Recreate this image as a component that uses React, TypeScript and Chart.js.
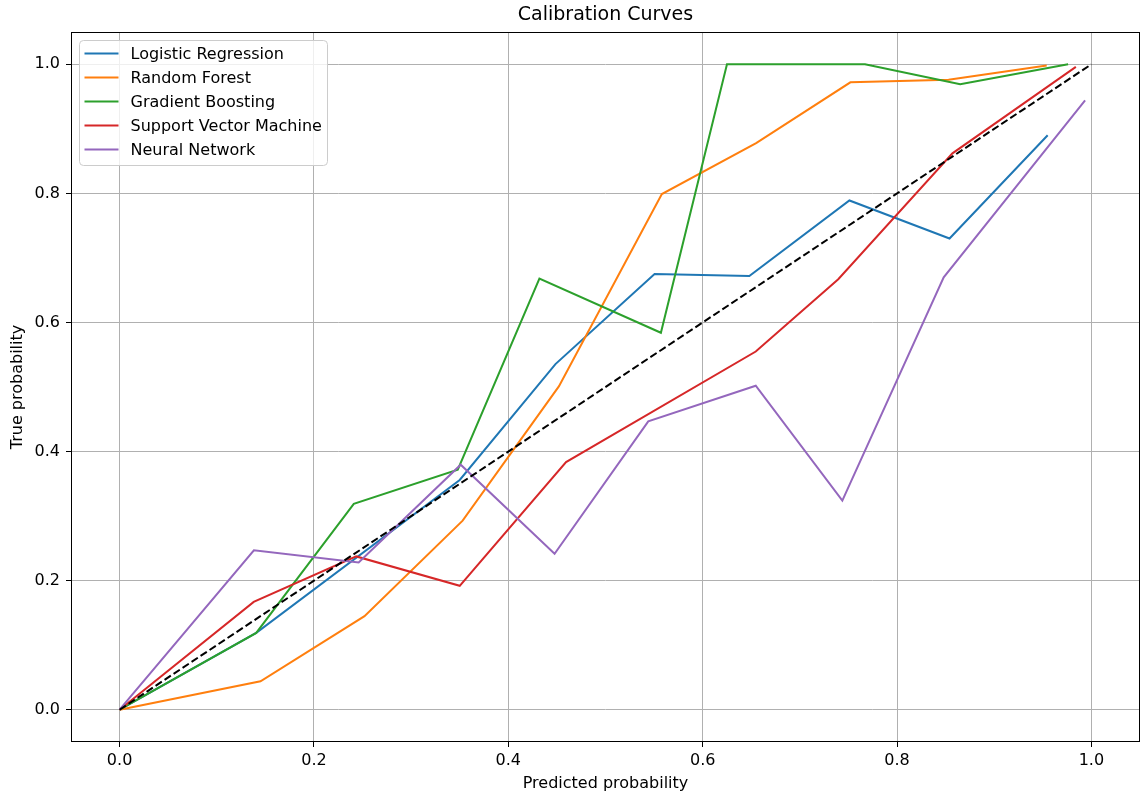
import React, { useEffect, useRef } from "react";
import { Chart, registerables } from "chart.js";

Chart.register(...registerables);

const TITLE = "Calibration Curves";
const X_LABEL = "Predicted probability";
const Y_LABEL = "True probability";
const TICKS = [0, 0.2, 0.4, 0.6, 0.8, 1.0];

const LR_LABEL = "Logistic Regression";
const LR_X = [0, 0.1406, 0.35, 0.4485, 0.5505, 0.648, 0.751, 0.854, 0.955];
const LR_Y = [0, 0.119, 0.356, 0.5355, 0.675, 0.672, 0.789, 0.73, 0.89];

const RF_LABEL = "Random Forest";
const RF_X = [0, 0.145, 0.252, 0.353, 0.452, 0.558, 0.655, 0.752, 0.853, 0.954];
const RF_Y = [0, 0.044, 0.145, 0.293, 0.501, 0.799, 0.878, 0.972, 0.976, 0.998];

const GB_LABEL = "Gradient Boosting";
const GB_X = [0, 0.1406, 0.241, 0.348, 0.432, 0.557, 0.625, 0.767, 0.865, 0.976];
const GB_Y = [0, 0.119, 0.319, 0.372, 0.668, 0.584, 1.0, 1.0, 0.969, 1.0];

const SVM_LABEL = "Support Vector Machine";
const SVM_X = [0, 0.138, 0.2435, 0.35, 0.4594, 0.6546, 0.7395, 0.857, 0.984];
const SVM_Y = [0, 0.167, 0.2375, 0.192, 0.3837, 0.555, 0.667, 0.862, 0.996];

const NN_LABEL = "Neural Network";
const NN_X = [0, 0.1382, 0.246, 0.351, 0.4476, 0.544, 0.6546, 0.7437, 0.848, 0.9935];
const NN_Y = [0, 0.247, 0.228, 0.3796, 0.2417, 0.4467, 0.502, 0.324, 0.67, 0.944];

const DIAG_X = [0, 1];
const DIAG_Y = [0, 1];

const COLORS = ["#1f77b4", "#ff7f0e", "#2ca02c", "#d62728", "#9467bd"];
const FONT = '"DejaVu Sans", sans-serif';

const zip = (xs: number[], ys: number[]) => xs.map((x, i) => ({ x, y: ys[i] }));

const overlayPlugin = {
  id: "overlay",
  afterDraw(chart: any) {
    const { ctx, chartArea } = chart;
    const { left, top, right, bottom } = chartArea;
    ctx.save();
    // frame
    ctx.strokeStyle = "#000";
    ctx.lineWidth = 1;
    ctx.strokeRect(left + 0.5, top + 0.5, right - left - 1, bottom - top - 1);
    // title
    ctx.fillStyle = "#000";
    ctx.font = `19px ${FONT}`;
    ctx.textAlign = "center";
    ctx.textBaseline = "middle";
    ctx.fillText(TITLE, (left + right) / 2, 15.5);
    // legend
    const entries = chart.data.datasets.filter((d: any) => d.label);
    const bx = left + 8.5;
    const by = top + 8.5;
    const bw = 248;
    const bh = 125;
    ctx.beginPath();
    ctx.roundRect(bx, by, bw, bh, 4);
    ctx.fillStyle = "rgba(255,255,255,0.8)";
    ctx.fill();
    ctx.strokeStyle = "#cccccc";
    ctx.lineWidth = 1;
    ctx.stroke();
    ctx.font = `16px ${FONT}`;
    ctx.textAlign = "left";
    ctx.textBaseline = "middle";
    entries.forEach((d: any, i: number) => {
      const y = by + 13 + i * 24;
      ctx.beginPath();
      ctx.strokeStyle = d.borderColor;
      ctx.lineWidth = 2;
      ctx.moveTo(bx + 5, y);
      ctx.lineTo(bx + 39, y);
      ctx.stroke();
      ctx.fillStyle = "#000";
      ctx.fillText(d.label, bx + 51, y + 1);
    });
    ctx.restore();
  },
};

export default function App() {
  const ref = useRef<HTMLCanvasElement | null>(null);

  useEffect(() => {
    document.body.style.margin = "0";
    const canvas = ref.current;
    if (!canvas) return;
    const series = [
      [LR_LABEL, LR_X, LR_Y],
      [RF_LABEL, RF_X, RF_Y],
      [GB_LABEL, GB_X, GB_Y],
      [SVM_LABEL, SVM_X, SVM_Y],
      [NN_LABEL, NN_X, NN_Y],
    ] as [string, number[], number[]][];
    const datasets: any[] = series.map(([label, xs, ys], i) => ({
      label,
      data: zip(xs, ys),
      borderColor: COLORS[i],
      backgroundColor: COLORS[i],
      borderWidth: 2,
      showLine: true,
      pointRadius: 0,
      pointHoverRadius: 0,
      order: 10 - i,
    }));
    datasets.push({
      label: "",
      data: zip(DIAG_X, DIAG_Y),
      borderColor: "#000",
      backgroundColor: "#000",
      borderWidth: 2,
      borderDash: [7.5, 3.3],
      showLine: true,
      pointRadius: 0,
      pointHoverRadius: 0,
      order: 0,
    });

    const tickFont = { family: FONT, size: 16 };
    const axisCommon = (title: string, titlePadding: any, tickPad: number) => ({
      type: "linear" as const,
      min: -0.05,
      max: 1.05,
      afterBuildTicks: (axis: any) => {
        axis.ticks = TICKS.map((v) => ({ value: v }));
      },
      ticks: {
        color: "#000",
        font: tickFont,
        padding: tickPad,
        callback: (v: any) => Number(v).toFixed(1),
      },
      grid: {
        color: "#b0b0b0",
        lineWidth: 1,
        tickColor: "#000",
        tickLength: 5,
        tickWidth: 1,
      },
      border: { display: false },
      title: {
        display: true,
        text: title,
        color: "#000",
        font: { family: FONT, size: 16 },
        padding: titlePadding,
      },
    });

    const chart = new Chart(canvas, {
      type: "scatter",
      data: { datasets },
      options: {
        animation: false,
        responsive: false,
        maintainAspectRatio: false,
        layout: { padding: { top: 32, right: 1, left: 0, bottom: 0 } },
        plugins: {
          legend: { display: false },
          tooltip: { enabled: false },
          title: { display: false },
        },
        scales: {
          x: {
            ...axisCommon(X_LABEL, { top: 2, bottom: 1 }, 4),
            position: "bottom",
            afterFit: (s: any) => {
              s.height = 52;
            },
          },
          y: {
            ...axisCommon(Y_LABEL, { top: 8.5, bottom: 2 }, 6),
            position: "left",
            afterFit: (s: any) => {
              s.width = 71;
            },
          },
        },
      } as any,
      plugins: [overlayPlugin],
    });
    return () => chart.destroy();
  }, []);

  return (
    <div style={{ width: 1141, height: 794, background: "#fff" }}>
      <canvas ref={ref} width={1141} height={794} style={{ display: "block" }} />
    </div>
  );
}
